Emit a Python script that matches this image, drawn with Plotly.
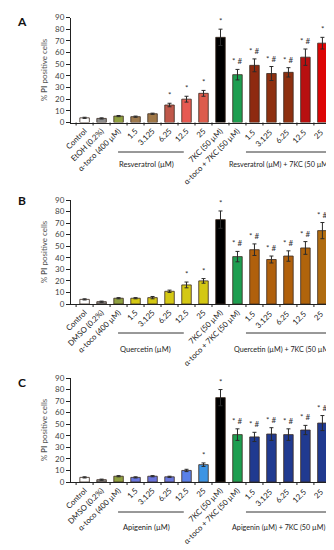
import plotly.graph_objects as go

W, H = 334, 550

# ---------- data ----------
cats_A = ["Control", "EtOH (0.2%)", "α-toco (400 µM)", "1.5", "3.125", "6.25", "12.5", "25",
          "7KC (50 µM)", "α-toco + 7KC (50 µM)", "1.5 ", "3.125 ", "6.25 ", "12.5 ", "25 "]
cats_B = ["Control", "DMSO (0.2%)", "α-toco (400 µM)", "1.5", "3.125", "6.25", "12.5", "25",
          "7KC (50 µM)", "α-toco + 7KC (50 µM)", "1.5 ", "3.125 ", "6.25 ", "12.5 ", "25 "]
cats_C = list(cats_B)

vals_A = [4, 3.5, 5.5, 5, 7.5, 15, 20, 25, 73, 41, 49, 42, 43, 56, 68]
err_A = [0.5, 0.5, 0.5, 0.5, 0.5, 1.5, 2.5, 2.5, 7, 4.5, 5.5, 6, 4, 7, 5]
sig_A = ["", "", "", "", "", "*", "*", "*", "*", "* #", "* #", "* #", "* #", "* #", "*"]

vals_B = [4, 2, 5, 5, 5.5, 11, 16.5, 20, 73, 41, 47, 38.5, 41.5, 48.5, 63.5]
err_B = [0.5, 0.5, 0.5, 0.5, 1, 1, 2.5, 2, 7.5, 4.5, 5, 3, 4.5, 5.5, 7]
sig_B = ["", "", "", "", "", "", "*", "*", "*", "* #", "* #", "* #", "* #", "* #", "* #"]

vals_C = [4, 2, 5, 4, 5, 4.5, 10, 15, 73, 41, 39, 41.5, 41, 45, 51]
err_C = [0.5, 0.5, 0.5, 0.5, 0.5, 0.5, 1, 1.5, 7, 5, 4, 5.5, 5, 4, 6.5]
sig_C = ["", "", "", "", "", "", "", "*", "*", "* #", "* #", "* #", "* #", "* #", "* #"]

colors_A = ["#ffffff", "#8c8c8c", "#8fa040", "#9e7a4e", "#a07848", "#c0584a", "#e65a52", "#dc5c4c",
            "#000000", "#1e9e50", "#8e2a10", "#8e3010", "#8e3010", "#b81010", "#dd0505"]
colors_B = ["#ffffff", "#8c8c8c", "#8fa040", "#d4c814", "#d4c814", "#d4c814", "#d4c814", "#d4c814",
            "#000000", "#1e9e50", "#b0600c", "#b0600c", "#b0600c", "#b0640c", "#b06c10"]
colors_C = ["#ffffff", "#8c8c8c", "#8fa040", "#6a78e0", "#6a74dc", "#6a78dc", "#5a80e8", "#3c94e4",
            "#000000", "#1e9e50", "#203a90", "#203a90", "#203a90", "#203a90", "#203a90"]

group_left = ["Resveratrol (µM)", "Quercetin (µM)", "Apigenin (µM)"]
group_right = ["Resveratrol (µM) + 7KC (50 µM)", "Quercetin (µM) + 7KC (50 µM)",
               "Apigenin (µM) + 7KC (50 µM)"]
panel_letters = ["A", "B", "C"]
y_ticks = [0, 10, 20, 30, 40, 50, 60, 70, 80, 90]

# ---------- layout geometry (pixels) ----------
panels = [
    dict(cats=cats_A, vals=vals_A, err=err_A, sig=sig_A, col=colors_A, top=9.5, bot=114.5,
         line_y=144, lab_y=157, letter_y=13, lcx=138, rcx=271),
    dict(cats=cats_B, vals=vals_B, err=err_B, sig=sig_B, col=colors_B, top=192, bot=296,
         line_y=325, lab_y=341, letter_y=193, lcx=137, rcx=274),
    dict(cats=cats_C, vals=vals_C, err=err_C, sig=sig_C, col=colors_C, top=370, bot=474,
         line_y=504, lab_y=519, letter_y=374, lcx=138, rcx=270),
]
x0px, x1px = 63, 328

fig = go.Figure()
annotations = []
shapes = []
FONT = "Lato"

def ann(**kw):
    d = dict(showarrow=False, xanchor="center", yanchor="middle")
    d.update(kw)
    annotations.append(d)

for i, p in enumerate(panels):
    sfx = "" if i == 0 else str(i + 1)
    xa, ya = "x" + sfx, "y" + sfx
    xs = list(range(len(p["cats"])))
    fig.add_trace(go.Bar(
        x=xs, y=p["vals"], marker=dict(color=p["col"], line=dict(color="#3a2a20", width=0.8)),
        width=0.56,
        error_y=dict(type="data", array=p["err"], color="#2a2a2a", thickness=1, width=2),
        xaxis=xa, yaxis=ya, showlegend=False, hoverinfo="skip"))
    fig.update_layout(**{
        "xaxis" + sfx: dict(
            domain=[x0px / W, x1px / W], range=[-0.8, 14.8], anchor=ya, automargin=False,
            tickmode="array", tickvals=xs, ticktext=p["cats"], tickangle=-45,
            tickfont=dict(family=FONT, size=7.8, color="#1a1a1a"),
            showline=True, linecolor="#222", linewidth=1, ticks="", showgrid=False,
            zeroline=False),
        "yaxis" + sfx: dict(
            domain=[1 - p["bot"] / H, 1 - p["top"] / H], range=[0, 90], anchor=xa,
            automargin=False,
            tickvals=y_ticks, ticks="outside", ticklen=4, tickcolor="#222", tickwidth=1,
            tickfont=dict(family=FONT, size=8, color="#444"),
            showline=True, linecolor="#222", linewidth=1, showgrid=False, zeroline=False,
            title=dict(text="% <b>PI</b> positive cells", standoff=6,
                       font=dict(family=FONT, size=8, color="#555"))),
    })
    # small boundary ticks on x axis
    for k in range(len(xs) + 1):
        shapes.append(dict(type="line", xref=xa, yref="paper", x0=k - 0.5, x1=k - 0.5,
                           y0=1 - p["bot"] / H, y1=1 - (p["bot"] + 3) / H,
                           line=dict(color="#222", width=1)))
    # significance marks
    for k, s in enumerate(p["sig"]):
        if s:
            ann(x=k, y=p["vals"][k] + p["err"][k], xref=xa, yref=ya, text=s, yanchor="bottom",
                yshift=1, font=dict(family=FONT, size=8, color="#333"))
    # group lines
    ly = 1 - p["line_y"] / H
    shapes.append(dict(type="line", xref=xa, yref="paper", x0=1.97, x1=5.84, y0=ly, y1=ly,
                       line=dict(color="#333", width=1)))
    shapes.append(dict(type="line", xref=xa, yref="paper", x0=9.5, x1=14.5, y0=ly, y1=ly,
                       line=dict(color="#333", width=1)))
    gy = 1 - p["lab_y"] / H
    ann(x=p["lcx"] / W, y=gy, xref="paper", yref="paper", text=group_left[i],
        font=dict(family=FONT, size=7.5, color="#222"))
    ann(x=p["rcx"] / W, y=gy, xref="paper", yref="paper", text=group_right[i],
        font=dict(family=FONT, size=7.2, color="#222"))
    ann(x=14 / W, y=1 - p["letter_y"] / H, xref="paper", yref="paper",
        text="<b>" + panel_letters[i] + "</b>", font=dict(family=FONT, size=12, color="#111"))

fig.update_layout(width=W, height=H, margin=dict(l=0, r=0, t=0, b=0, autoexpand=False),
                  paper_bgcolor="white", plot_bgcolor="white", bargap=0.4,
                  annotations=annotations, shapes=shapes)
fig.write_html("out.html")
